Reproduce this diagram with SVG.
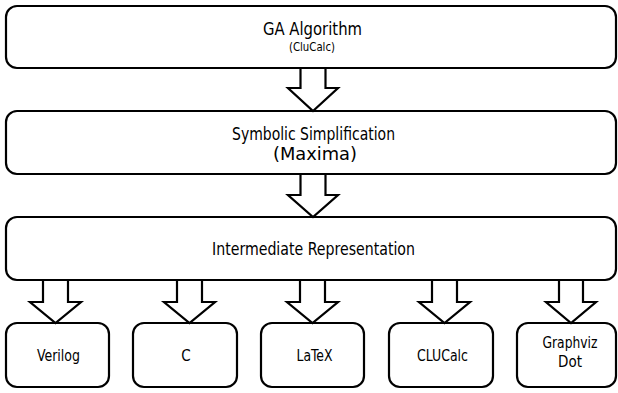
<svg xmlns="http://www.w3.org/2000/svg" width="618" height="393" viewBox="0 0 618 393">
<style>
.box{fill:#fff;stroke:#000;stroke-width:2.2}
.arr{fill:#fff;stroke:#000;stroke-width:2.2;stroke-linejoin:miter}
.t{font-family:"DejaVu Sans",sans-serif;font-stretch:condensed;text-anchor:middle;fill:#000}
.w{font-family:"DejaVu Sans",sans-serif;text-anchor:middle;fill:#000}
</style>
<rect width="618" height="393" fill="#fff"/>
<g id="n-ga">
<rect class="box" x="6" y="6" width="610" height="62" rx="11"/>
<text class="t" x="312.5" y="35" font-size="17.5" textLength="99" lengthAdjust="spacingAndGlyphs">GA Algorithm</text>
<text class="t" x="312" y="51" font-size="12.3" textLength="46" lengthAdjust="spacingAndGlyphs">(CluCalc)</text>
</g>
<g id="n-sym">
<rect class="box" x="6" y="111" width="610" height="63" rx="11"/>
<text class="t" x="313.5" y="140" font-size="17" textLength="163" lengthAdjust="spacingAndGlyphs">Symbolic Simplification</text>
<text class="w" x="315" y="160" font-size="17.5" textLength="84" lengthAdjust="spacingAndGlyphs">(Maxima)</text>
</g>
<g id="n-ir">
<rect class="box" x="6" y="217" width="610" height="63" rx="11"/>
<text class="t" x="313.5" y="255" font-size="17" textLength="203" lengthAdjust="spacingAndGlyphs">Intermediate Representation</text>
</g>
<g id="n-verilog">
<rect class="box" x="6" y="323" width="103" height="64" rx="11"/>
<text class="t" x="58.5" y="360.5" font-size="15" textLength="43" lengthAdjust="spacingAndGlyphs">Verilog</text>
</g>
<g id="n-c">
<rect class="box" x="133" y="323" width="104" height="64" rx="11"/>
<text class="t" x="186" y="360.5" font-size="15">C</text>
</g>
<g id="n-latex">
<rect class="box" x="261" y="323" width="103" height="64" rx="11"/>
<text class="t" x="314.5" y="360.5" font-size="15" textLength="36" lengthAdjust="spacingAndGlyphs">LaTeX</text>
</g>
<g id="n-clucalc">
<rect class="box" x="389" y="323" width="104" height="64" rx="11"/>
<text class="t" x="442.5" y="360.5" font-size="15" textLength="51" lengthAdjust="spacingAndGlyphs">CLUCalc</text>
</g>
<g id="n-graphviz">
<rect class="box" x="517" y="323" width="99" height="64" rx="11"/>
<text class="t" x="570" y="348" font-size="15" textLength="55" lengthAdjust="spacingAndGlyphs">Graphviz</text>
<text class="t" x="570" y="367" font-size="15">Dot</text>
</g>
<g id="connectors">
<polygon class="arr" points="300.5,68 325.5,68 325.5,88 338,88 313,111 288,88 300.5,88"/>
<polygon class="arr" points="300.5,174 325.5,174 325.5,195 338,195 313,217 288,195 300.5,195"/>
<polygon class="arr" points="43,280 68,280 68,302 81,302 55.5,323 30,302 43,302"/>
<polygon class="arr" points="177,280 202,280 202,302 215,302 189.5,323 164,302 177,302"/>
<polygon class="arr" points="300,280 325,280 325,302 338,302 312.5,323 287,302 300,302"/>
<polygon class="arr" points="432,280 457,280 457,302 470,302 444.5,323 419,302 432,302"/>
<polygon class="arr" points="559,280 583,280 583,302 596,302 571,323 546,302 559,302"/>
</g>
</svg>
